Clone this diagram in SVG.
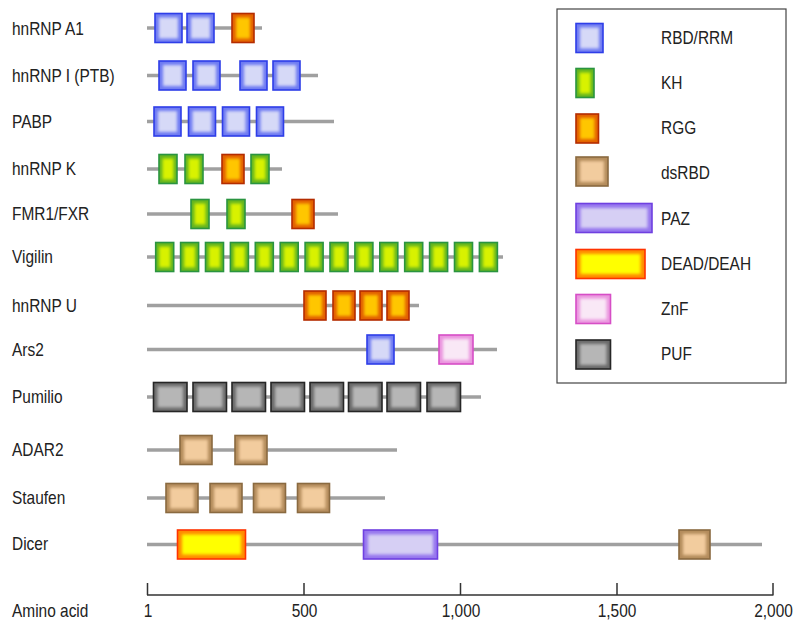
<svg xmlns="http://www.w3.org/2000/svg" width="800" height="629" viewBox="0 0 800 629">
<defs>
<filter id="soft" x="-30%" y="-30%" width="160%" height="160%"><feGaussianBlur stdDeviation="1.8"/></filter>
<style>
.bg{fill:#ffffff}
.ln{stroke:#a0a0a0;stroke-width:3.6;fill:none}
.t{font-family:"Liberation Sans",Arial,sans-serif;font-size:18.5px;fill:#222222}
.ax{stroke:#333333;stroke-width:1.5;fill:none}
.lg{fill:none;stroke:#444444;stroke-width:1.2}
.o{stroke-width:1.6}
.i{filter:url(#soft)}
.rbd .o{fill:#6e7af2;stroke:#2e3ee8}.rbd .i{fill:#d6d9f7}
.kh .o{fill:#62b420;stroke:#2a9440}.kh .i{fill:#d8f200}
.rgg .o{fill:#e26000;stroke:#b42c00}.rgg .i{fill:#ffc600}
.ds .o{fill:#b48c5c;stroke:#8a6a40}.ds .i{fill:#f2cc9e}
.paz .o{fill:#9676ee;stroke:#6f40e0}.paz .i{fill:#d6cff4}
.dead .o{fill:#ff8a00;stroke:#ff3300}.dead .i{fill:#ffff00}
.znf .o{fill:#ea94de;stroke:#d64ec6}.znf .i{fill:#f9e8f6}
.puf .o{fill:#6a6a6a;stroke:#262626}.puf .i{fill:#b6b6b6}
</style>
</defs>
<rect class="bg" x="0" y="0" width="800" height="629"/>

<g id="labels">
<text class="t" transform="translate(12,34.5) scale(0.835,1)">hnRNP A1</text>
<text class="t" transform="translate(12,81.5) scale(0.835,1)">hnRNP I (PTB)</text>
<text class="t" transform="translate(12,127.5) scale(0.835,1)">PABP</text>
<text class="t" transform="translate(12,175) scale(0.835,1)">hnRNP K</text>
<text class="t" transform="translate(12,220) scale(0.835,1)">FMR1/FXR</text>
<text class="t" transform="translate(12,263) scale(0.835,1)">Vigilin</text>
<text class="t" transform="translate(12,311.5) scale(0.835,1)">hnRNP U</text>
<text class="t" transform="translate(12,355.5) scale(0.835,1)">Ars2</text>
<text class="t" transform="translate(12,403) scale(0.835,1)">Pumilio</text>
<text class="t" transform="translate(12,456) scale(0.835,1)">ADAR2</text>
<text class="t" transform="translate(12,503.5) scale(0.835,1)">Staufen</text>
<text class="t" transform="translate(12,550) scale(0.835,1)">Dicer</text>
</g>

<g id="hnRNP-A1">
<line class="ln" x1="147" y1="28" x2="262" y2="28"/>
<g class="rbd"><rect class="o" x="155" y="13.5" width="27" height="29"/><rect class="i" x="159" y="17.5" width="19" height="21"/></g>
<g class="rbd"><rect class="o" x="187" y="13.5" width="27" height="29"/><rect class="i" x="191" y="17.5" width="19" height="21"/></g>
<g class="rgg"><rect class="o" x="232" y="13.5" width="22" height="29"/><rect class="i" x="236" y="17.5" width="14" height="21"/></g>
</g>

<g id="hnRNP-I">
<line class="ln" x1="147" y1="75.5" x2="318" y2="75.5"/>
<g class="rbd"><rect class="o" x="159" y="61" width="27" height="29"/><rect class="i" x="163" y="65" width="19" height="21"/></g>
<g class="rbd"><rect class="o" x="193" y="61" width="27" height="29"/><rect class="i" x="197" y="65" width="19" height="21"/></g>
<g class="rbd"><rect class="o" x="240" y="61" width="27" height="29"/><rect class="i" x="244" y="65" width="19" height="21"/></g>
<g class="rbd"><rect class="o" x="273" y="61" width="27" height="29"/><rect class="i" x="277" y="65" width="19" height="21"/></g>
</g>

<g id="PABP">
<line class="ln" x1="147" y1="121.5" x2="334" y2="121.5"/>
<g class="rbd"><rect class="o" x="154" y="107" width="27" height="29"/><rect class="i" x="158" y="111" width="19" height="21"/></g>
<g class="rbd"><rect class="o" x="188.5" y="107" width="27" height="29"/><rect class="i" x="192.5" y="111" width="19" height="21"/></g>
<g class="rbd"><rect class="o" x="222.5" y="107" width="27" height="29"/><rect class="i" x="226.5" y="111" width="19" height="21"/></g>
<g class="rbd"><rect class="o" x="256.5" y="107" width="27" height="29"/><rect class="i" x="260.5" y="111" width="19" height="21"/></g>
</g>

<g id="hnRNP-K">
<line class="ln" x1="147" y1="169" x2="282" y2="169"/>
<g class="kh"><rect class="o" x="159" y="154.5" width="18" height="29"/><rect class="i" x="162.5" y="158.5" width="11" height="21"/></g>
<g class="kh"><rect class="o" x="185" y="154.5" width="18" height="29"/><rect class="i" x="188.5" y="158.5" width="11" height="21"/></g>
<g class="rgg"><rect class="o" x="222" y="154.5" width="22" height="29"/><rect class="i" x="226" y="158.5" width="14" height="21"/></g>
<g class="kh"><rect class="o" x="251" y="154.5" width="18" height="29"/><rect class="i" x="254.5" y="158.5" width="11" height="21"/></g>
</g>

<g id="FMR1-FXR">
<line class="ln" x1="147" y1="214" x2="338" y2="214"/>
<g class="kh"><rect class="o" x="191" y="199.5" width="18" height="29"/><rect class="i" x="194.5" y="203.5" width="11" height="21"/></g>
<g class="kh"><rect class="o" x="227" y="199.5" width="18" height="29"/><rect class="i" x="230.5" y="203.5" width="11" height="21"/></g>
<g class="rgg"><rect class="o" x="292" y="199.5" width="22" height="29"/><rect class="i" x="296" y="203.5" width="14" height="21"/></g>
</g>

<g id="Vigilin">
<line class="ln" x1="147" y1="257" x2="503" y2="257"/>
<g class="kh"><rect class="o" x="155.7" y="242.5" width="18" height="29"/><rect class="i" x="159.2" y="246.5" width="11" height="21"/></g>
<g class="kh"><rect class="o" x="180.6" y="242.5" width="18" height="29"/><rect class="i" x="184.1" y="246.5" width="11" height="21"/></g>
<g class="kh"><rect class="o" x="205.5" y="242.5" width="18" height="29"/><rect class="i" x="209" y="246.5" width="11" height="21"/></g>
<g class="kh"><rect class="o" x="230.4" y="242.5" width="18" height="29"/><rect class="i" x="233.9" y="246.5" width="11" height="21"/></g>
<g class="kh"><rect class="o" x="255.3" y="242.5" width="18" height="29"/><rect class="i" x="258.8" y="246.5" width="11" height="21"/></g>
<g class="kh"><rect class="o" x="280.2" y="242.5" width="18" height="29"/><rect class="i" x="283.7" y="246.5" width="11" height="21"/></g>
<g class="kh"><rect class="o" x="305.1" y="242.5" width="18" height="29"/><rect class="i" x="308.6" y="246.5" width="11" height="21"/></g>
<g class="kh"><rect class="o" x="330" y="242.5" width="18" height="29"/><rect class="i" x="333.5" y="246.5" width="11" height="21"/></g>
<g class="kh"><rect class="o" x="354.9" y="242.5" width="18" height="29"/><rect class="i" x="358.4" y="246.5" width="11" height="21"/></g>
<g class="kh"><rect class="o" x="379.8" y="242.5" width="18" height="29"/><rect class="i" x="383.3" y="246.5" width="11" height="21"/></g>
<g class="kh"><rect class="o" x="404.7" y="242.5" width="18" height="29"/><rect class="i" x="408.2" y="246.5" width="11" height="21"/></g>
<g class="kh"><rect class="o" x="429.6" y="242.5" width="18" height="29"/><rect class="i" x="433.1" y="246.5" width="11" height="21"/></g>
<g class="kh"><rect class="o" x="454.5" y="242.5" width="18" height="29"/><rect class="i" x="458" y="246.5" width="11" height="21"/></g>
<g class="kh"><rect class="o" x="479.4" y="242.5" width="18" height="29"/><rect class="i" x="482.9" y="246.5" width="11" height="21"/></g>
</g>

<g id="hnRNP-U">
<line class="ln" x1="147" y1="305.5" x2="419" y2="305.5"/>
<g class="rgg"><rect class="o" x="304" y="291" width="22" height="29"/><rect class="i" x="308" y="295" width="14" height="21"/></g>
<g class="rgg"><rect class="o" x="333" y="291" width="22" height="29"/><rect class="i" x="337" y="295" width="14" height="21"/></g>
<g class="rgg"><rect class="o" x="360" y="291" width="22" height="29"/><rect class="i" x="364" y="295" width="14" height="21"/></g>
<g class="rgg"><rect class="o" x="387" y="291" width="22" height="29"/><rect class="i" x="391" y="295" width="14" height="21"/></g>
</g>

<g id="Ars2">
<line class="ln" x1="147" y1="349.5" x2="497" y2="349.5"/>
<g class="rbd"><rect class="o" x="367" y="335" width="27" height="29"/><rect class="i" x="371" y="339" width="19" height="21"/></g>
<g class="znf"><rect class="o" x="439" y="335" width="34" height="29"/><rect class="i" x="443" y="339" width="26" height="21"/></g>
</g>

<g id="Pumilio">
<line class="ln" x1="147" y1="397" x2="481" y2="397"/>
<g class="puf"><rect class="o" x="153.5" y="382.5" width="33.5" height="29"/><rect class="i" x="157.5" y="386.5" width="25.5" height="21"/></g>
<g class="puf"><rect class="o" x="193" y="382.5" width="33.5" height="29"/><rect class="i" x="197" y="386.5" width="25.5" height="21"/></g>
<g class="puf"><rect class="o" x="232" y="382.5" width="33.5" height="29"/><rect class="i" x="236" y="386.5" width="25.5" height="21"/></g>
<g class="puf"><rect class="o" x="271" y="382.5" width="33.5" height="29"/><rect class="i" x="275" y="386.5" width="25.5" height="21"/></g>
<g class="puf"><rect class="o" x="310" y="382.5" width="33.5" height="29"/><rect class="i" x="314" y="386.5" width="25.5" height="21"/></g>
<g class="puf"><rect class="o" x="348.5" y="382.5" width="33.5" height="29"/><rect class="i" x="352.5" y="386.5" width="25.5" height="21"/></g>
<g class="puf"><rect class="o" x="387" y="382.5" width="33.5" height="29"/><rect class="i" x="391" y="386.5" width="25.5" height="21"/></g>
<g class="puf"><rect class="o" x="427" y="382.5" width="33.5" height="29"/><rect class="i" x="431" y="386.5" width="25.5" height="21"/></g>
</g>

<g id="ADAR2">
<line class="ln" x1="147" y1="450" x2="397" y2="450"/>
<g class="ds"><rect class="o" x="180" y="435.5" width="32" height="29"/><rect class="i" x="184" y="439.5" width="24" height="21"/></g>
<g class="ds"><rect class="o" x="235" y="435.5" width="32" height="29"/><rect class="i" x="239" y="439.5" width="24" height="21"/></g>
</g>

<g id="Staufen">
<line class="ln" x1="147" y1="498" x2="385" y2="498"/>
<g class="ds"><rect class="o" x="166" y="483.5" width="32" height="29"/><rect class="i" x="170" y="487.5" width="24" height="21"/></g>
<g class="ds"><rect class="o" x="210" y="483.5" width="32" height="29"/><rect class="i" x="214" y="487.5" width="24" height="21"/></g>
<g class="ds"><rect class="o" x="253.5" y="483.5" width="32" height="29"/><rect class="i" x="257.5" y="487.5" width="24" height="21"/></g>
<g class="ds"><rect class="o" x="297.5" y="483.5" width="32" height="29"/><rect class="i" x="301.5" y="487.5" width="24" height="21"/></g>
</g>

<g id="Dicer">
<line class="ln" x1="147" y1="544.5" x2="762" y2="544.5"/>
<g class="dead"><rect class="o" x="177.5" y="530" width="68" height="29"/><rect class="i" x="182" y="534.5" width="59" height="20"/></g>
<g class="paz"><rect class="o" x="363.5" y="530" width="74" height="29"/><rect class="i" x="368" y="534.5" width="65" height="20"/></g>
<g class="ds"><rect class="o" x="679" y="530" width="31" height="29"/><rect class="i" x="683" y="534" width="23" height="21"/></g>
</g>

<g id="axis">
<path class="ax" d="M147,595 H773.5 M147.5,583 V595 M304,583 V595 M460.5,583 V595 M617,583 V595 M773,583 V595"/>
<text class="t" transform="translate(12,617) scale(0.835,1)">Amino acid</text>
<text class="t" text-anchor="middle" transform="translate(148,617) scale(0.835,1)">1</text>
<text class="t" text-anchor="middle" transform="translate(304.5,617) scale(0.835,1)">500</text>
<text class="t" text-anchor="middle" transform="translate(461,617) scale(0.835,1)">1,000</text>
<text class="t" text-anchor="middle" transform="translate(617,617) scale(0.835,1)">1,500</text>
<text class="t" text-anchor="middle" transform="translate(773.5,617) scale(0.835,1)">2,000</text>
</g>

<g id="legend">
<rect class="lg" x="557" y="9" width="229" height="374"/>
<g class="rbd"><rect class="o" x="576" y="23.5" width="27" height="29"/><rect class="i" x="580" y="27.5" width="19" height="21"/></g>
<text class="t" transform="translate(661,44) scale(0.835,1)">RBD/RRM</text>
<g class="kh"><rect class="o" x="576" y="68.5" width="18" height="29"/><rect class="i" x="579.5" y="72.5" width="11" height="21"/></g>
<text class="t" transform="translate(661,89) scale(0.835,1)">KH</text>
<g class="rgg"><rect class="o" x="576" y="114" width="22.5" height="29"/><rect class="i" x="580" y="118" width="14.5" height="21"/></g>
<text class="t" transform="translate(661,134) scale(0.835,1)">RGG</text>
<g class="ds"><rect class="o" x="576" y="157" width="32" height="29"/><rect class="i" x="580" y="161" width="24" height="21"/></g>
<text class="t" transform="translate(661,178.5) scale(0.835,1)">dsRBD</text>
<g class="paz"><rect class="o" x="576" y="203.5" width="76" height="29"/><rect class="i" x="580.5" y="208" width="67" height="20"/></g>
<text class="t" transform="translate(661,224.5) scale(0.835,1)">PAZ</text>
<g class="dead"><rect class="o" x="576" y="249.5" width="69" height="29"/><rect class="i" x="580.5" y="254" width="60" height="20"/></g>
<text class="t" transform="translate(661,270) scale(0.835,1)">DEAD/DEAH</text>
<g class="znf"><rect class="o" x="576" y="294.5" width="34.5" height="29"/><rect class="i" x="580" y="298.5" width="26.5" height="21"/></g>
<text class="t" transform="translate(661,315) scale(0.835,1)">ZnF</text>
<g class="puf"><rect class="o" x="576" y="340" width="34.5" height="29"/><rect class="i" x="580" y="344" width="26.5" height="21"/></g>
<text class="t" transform="translate(661,360) scale(0.835,1)">PUF</text>
</g>
</svg>
